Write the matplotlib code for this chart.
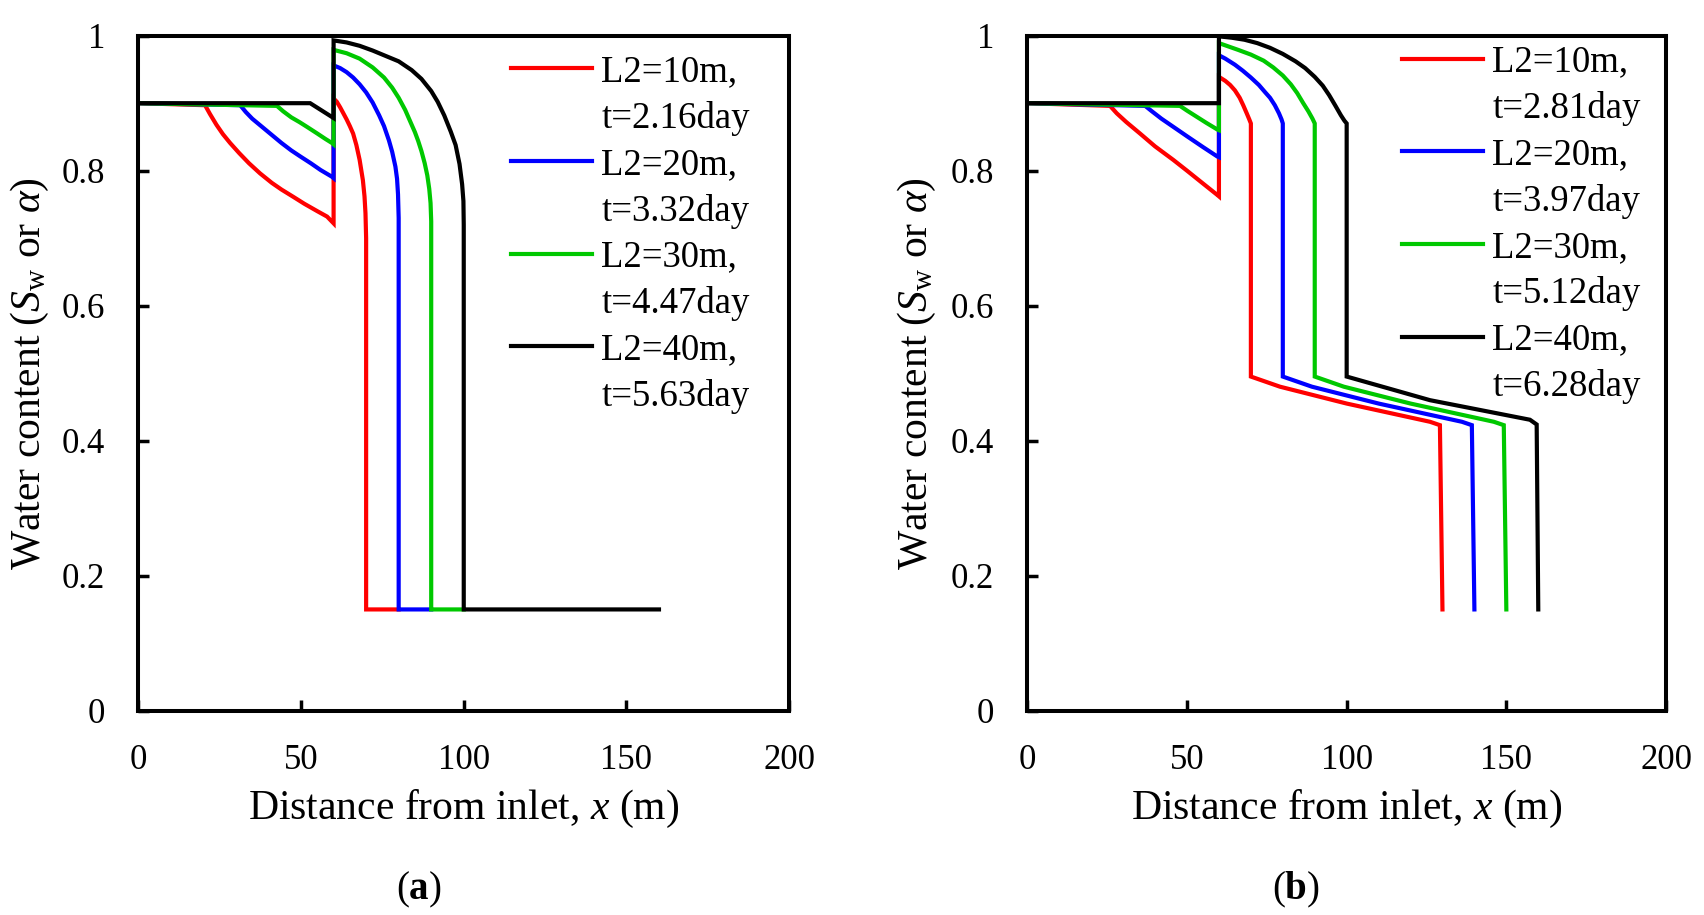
import matplotlib
matplotlib.use('Agg')
import matplotlib.pyplot as plt
from matplotlib.lines import Line2D

plt.rcParams['font.family'] = ['Liberation Serif', 'DejaVu Serif']
plt.rcParams['mathtext.fontset'] = 'custom'
plt.rcParams['mathtext.rm'] = 'Liberation Serif'
plt.rcParams['mathtext.it'] = 'Liberation Serif:italic'
plt.rcParams['mathtext.bf'] = 'Liberation Serif:bold'

# ---- panel (a) : water content profiles
a_red_x = [0, 20.5, 22, 24, 26, 28.2, 31, 34, 37.4, 41, 44, 47.7, 51, 55, 58, 60,
           60, 61, 62, 63, 64, 65, 66, 67, 68, 69, 69.5, 69.8, 70, 70, 80]
a_red_y = [0.90, 0.897, 0.884, 0.868, 0.854, 0.841, 0.826, 0.811, 0.796, 0.782, 0.772, 0.761, 0.751, 0.740, 0.732, 0.722,
           0.907, 0.902, 0.894, 0.885, 0.876, 0.866, 0.855, 0.838, 0.816, 0.786, 0.762, 0.737, 0.70, 0.15, 0.15]
a_blue_x = [0, 31.3, 33, 35, 38, 40.5, 44, 47, 49.8, 53, 56, 59.5, 60,
            60, 62, 64, 66, 68, 70, 72, 74, 75.5, 77, 78, 79, 79.5, 79.8, 80, 80, 90]
a_blue_y = [0.90, 0.897, 0.887, 0.877, 0.865, 0.855, 0.841, 0.830, 0.821, 0.811, 0.801, 0.791, 0.789,
            0.956, 0.952, 0.946, 0.938, 0.928, 0.916, 0.901, 0.882, 0.866, 0.845, 0.828, 0.806, 0.788, 0.765, 0.73, 0.15, 0.15]
a_green_x = [0, 42.6, 44.5, 47, 49.5, 51.8, 55, 57.5, 59.5, 60,
             60, 64, 68, 72, 75.5, 78, 80, 82, 84, 85, 86, 87, 88, 88.8, 89.4, 89.8, 90, 90, 100]
a_green_y = [0.90, 0.896, 0.888, 0.879, 0.872, 0.865, 0.855, 0.847, 0.841, 0.839,
             0.979, 0.974, 0.966, 0.953, 0.938, 0.923, 0.908, 0.890, 0.868, 0.857, 0.844, 0.829, 0.811, 0.793,
             0.773, 0.752, 0.725, 0.15, 0.15]
a_black_x = [0, 52.8, 60, 60, 64, 68, 72, 76, 80, 84, 87, 90, 92, 94, 96, 97.5, 98.7, 99.5, 99.9, 100, 100, 160]
a_black_y = [0.90, 0.900, 0.878, 0.993, 0.990, 0.985, 0.978, 0.970, 0.962, 0.949, 0.936, 0.918, 0.902, 0.882, 0.858, 0.838,
             0.810, 0.780, 0.755, 0.72, 0.15, 0.15]
a_labels = ['L2=10m,', 't=2.16day', 'L2=20m,', 't=3.32day',
            'L2=30m,', 't=4.47day', 'L2=40m,', 't=5.63day']

# ---- panel (b)
b_red_x = [0, 25.9, 28, 31, 35.3, 40, 45.7, 50, 55, 59.5, 60,
           60, 62, 63.5, 65, 66.5, 67.6, 68.7, 69.5, 70,
           70, 79.1, 100, 126.1, 129.2, 130]
b_red_y = [0.90, 0.896, 0.885, 0.872, 0.855, 0.836, 0.816, 0.800, 0.781, 0.764, 0.762,
           0.939, 0.933, 0.927, 0.919, 0.908, 0.897, 0.885, 0.876, 0.870,
           0.495, 0.480, 0.455, 0.428, 0.423, 0.15]
b_blue_x = [0, 36.9, 39, 42, 45.7, 50, 55, 59.5, 60,
            60, 62, 65, 67.5, 70, 72.5, 74.5, 76, 77.5, 78.8, 79.6, 80,
            80, 89.1, 110, 136.1, 139.2, 140]
b_blue_y = [0.90, 0.896, 0.888, 0.877, 0.865, 0.851, 0.835, 0.821, 0.820,
            0.971, 0.966, 0.957, 0.948, 0.938, 0.927, 0.916, 0.908, 0.897, 0.885, 0.876, 0.870,
            0.495, 0.480, 0.455, 0.428, 0.423, 0.15]
b_green_x = [0, 47.8, 50, 53, 56, 59.5, 60,
             60, 63, 66, 70, 74, 77, 80, 82.5, 84.5, 86.4, 88, 89.3, 90,
             90, 99.1, 120, 146.1, 149.2, 150]
b_green_y = [0.90, 0.896, 0.889, 0.880, 0.871, 0.861, 0.860,
             0.989, 0.984, 0.979, 0.972, 0.963, 0.953, 0.941, 0.928, 0.915, 0.900, 0.888, 0.877, 0.870,
             0.495, 0.480, 0.455, 0.428, 0.423, 0.15]
b_black_x = [0, 60, 60, 64, 68, 72, 76, 80, 84, 87, 90, 92.5, 94.5, 96.5, 98.2, 99.3, 100,
             100, 126.1, 157.4, 159.5, 160]
b_black_y = [0.90, 0.90, 0.999, 0.997, 0.994, 0.989, 0.982, 0.973, 0.962, 0.952, 0.939, 0.926, 0.912, 0.896, 0.882, 0.874, 0.870,
             0.495, 0.460, 0.431, 0.424, 0.15]
b_labels = ['L2=10m,', 't=2.81day', 'L2=20m,', 't=3.97day',
            'L2=30m,', 't=5.12day', 'L2=40m,', 't=6.28day']

x_ticks = [0, 50, 100, 150, 200]
y_ticks = [0, 0.2, 0.4, 0.6, 0.8, 1.0]
y_ticklabels = ['0', '0.2', '0.4', '0.6', '0.8', '1']
colors = ['#ff0000', '#0000ff', '#00c800', '#000000']

fig = plt.figure(figsize=(17.04, 9.15), dpi=100)
ax_a = fig.add_axes([0.0812, 0.2233, 0.3819, 0.7377])
ax_b = fig.add_axes([0.6029, 0.2233, 0.3748, 0.7377])


def panel(ax, curves, labels, leg_anchor, ylab_x):
    for (xs, ys), c in zip(curves, colors):
        ax.plot(xs, ys, color=c, lw=3.0, clip_on=False, solid_joinstyle='miter')
    ax.set_xlim(0, 200)
    ax.set_ylim(0, 1)
    ax.set_xticks(x_ticks)
    ax.set_yticks(y_ticks)
    ax.set_yticklabels(y_ticklabels)
    ax.tick_params(direction='in', length=8, width=2.5, labelsize=25, pad=24,
                   top=False, right=False)
    for sp in ax.spines.values():
        sp.set_linewidth(2.9)
    ax.set_xlabel(r'Distance from inlet, $x$ (m)', fontsize=30)
    ax.set_ylabel(r'Water content ($S_{\mathrm{w}}$ or $\alpha$)', fontsize=30)
    ax.xaxis.set_label_coords(0.5, -0.115)
    ax.yaxis.set_label_coords(ylab_x, 0.5)

    # each legend entry: coloured line + first line, then a blank handle for the time
    handles = []
    for c in colors:
        handles.append(Line2D([], [], color=c, lw=3.0))
        handles.append(Line2D([], [], linestyle='none'))
    ax.legend(handles, labels, loc='upper left', bbox_to_anchor=leg_anchor,
              frameon=False, fontsize=26.5, handlelength=2.2, handletextpad=0.25,
              labelspacing=0.315, borderpad=0, borderaxespad=0)


panel(ax_a, [(a_red_x, a_red_y), (a_blue_x, a_blue_y), (a_green_x, a_green_y),
             (a_black_x, a_black_y)], a_labels, (0.5728, 0.9718), -0.134)
panel(ax_b, [(b_red_x, b_red_y), (b_blue_x, b_blue_y), (b_green_x, b_green_y),
             (b_black_x, b_black_y)], b_labels, (0.5867, 0.9862), -0.140)

fig.text(419 / 1704, 0.027, r'($\mathbf{a}$)', fontsize=28, ha='center', va='center')
fig.text(1296 / 1704, 0.027, r'($\mathbf{b}$)', fontsize=28, ha='center', va='center')

fig.savefig('out.png', dpi=100)
